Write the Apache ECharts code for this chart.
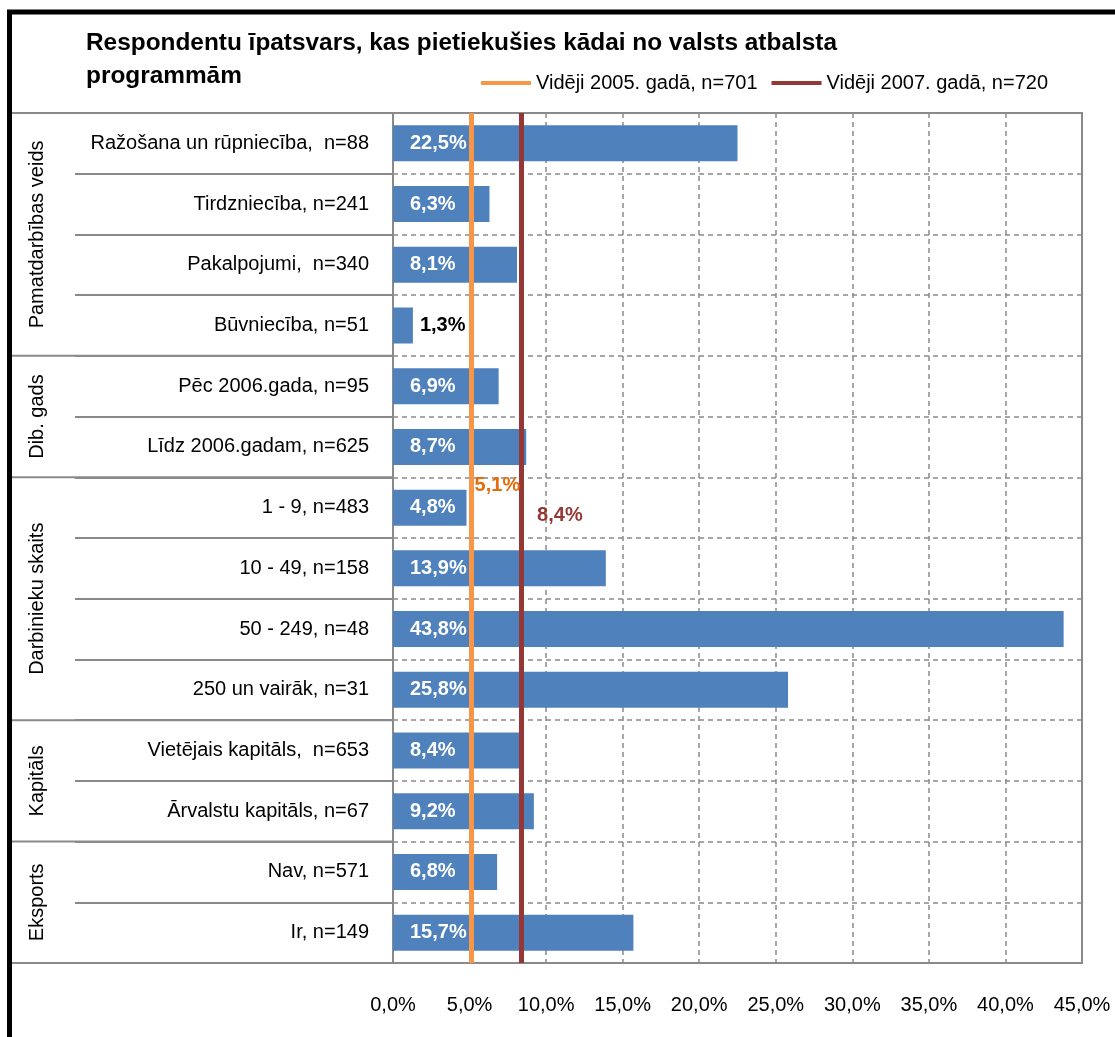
<!DOCTYPE html>
<html>
<head>
<meta charset="utf-8">
<script src="https://cdn.jsdelivr.net/npm/echarts@6/dist/echarts.min.js"></script>
<style>
  html, body { margin: 0; padding: 0; background: #fff; }
  #chart { width: 1115px; height: 1037px; }
</style>
</head>
<body>
<div id="chart"></div>
<script>
var categories = ['Ražošana un rūpniecība,  n=88', 'Tirdzniecība, n=241', 'Pakalpojumi,  n=340', 'Būvniecība, n=51',
    'Pēc 2006.gada, n=95', 'Līdz 2006.gadam, n=625',
    '1 - 9, n=483', '10 - 49, n=158', '50 - 249, n=48', '250 un vairāk, n=31',
    'Vietējais kapitāls,  n=653', 'Ārvalstu kapitāls, n=67',
    'Nav, n=571', 'Ir, n=149'];
var values = [22.5, 6.3, 8.1, 1.3, 6.9, 8.7, 4.8, 13.9, 43.8, 25.8, 8.4, 9.2, 6.8, 15.7];
var groupNames = ['Pamatdarbības veids', 'Dib. gads', 'Darbinieku skaits', 'Kapitāls', 'Eksports'];
var groupSizes = [4, 2, 4, 2, 2];
var avgNames = ['Vidēji 2005. gadā, n=701', 'Vidēji 2007. gadā, n=720'];
var avgValues = [5.1, 8.4];

var FONT = '"Liberation Sans", Arial, sans-serif';
var FS = 20;
var GRID_COLOR = '#8a8a8a';

var fmt = function (v) {
    return v.toFixed(1).replace('.', ',') + '%';
};

var chart = echarts.init(document.getElementById('chart'));

var barData = values.map(function (v) {
    // mazās vērtības etiķete ārpus stabiņa
    if (v < 3) {
        return { value: v, label: { position: 'right', distance: 7, color: '#000' } };
    }
    return v;
});

var option = {
    backgroundColor: '#fff',
    animation: false,
    textStyle: { fontFamily: FONT },
    title: {
        text: 'Respondentu īpatsvars, kas pietiekušies kādai no valsts atbalsta\nprogrammām',
        left: 81,
        top: 22,
        textStyle: { fontSize: 24.4, fontWeight: 'bold', color: '#000', lineHeight: 33, fontFamily: FONT }
    },
    legend: {
        right: 62,
        top: 68,
        icon: 'rect',
        itemWidth: 50,
        itemHeight: 4,
        itemGap: 14,
        textStyle: { fontSize: FS, color: '#000', fontFamily: FONT },
        data: avgNames
    },
    grid: {
        left: 393,
        right: 33,
        top: 113,
        bottom: 74,
        containLabel: false,
        outerBoundsMode: 'none',
        show: true,
        borderColor: GRID_COLOR,
        borderWidth: 2
    },
    xAxis: {
        type: 'value',
        min: 0,
        max: 45,
        interval: 5,
        axisLine: { show: false },
        axisTick: { show: false },
        axisLabel: {
            margin: 32,
            fontSize: FS,
            color: '#000',
            formatter: function (v) { return fmt(v); }
        },
        splitLine: { lineStyle: { color: GRID_COLOR, type: [5, 4], width: 1.5 } }
    },
    yAxis: {
        type: 'category',
        inverse: true,
        data: categories,
        axisLine: { show: false },
        axisTick: { show: true, length: 318, lineStyle: { color: GRID_COLOR, width: 2 } },
        axisLabel: { margin: 24, fontSize: FS, color: '#000' },
        splitLine: { show: true, lineStyle: { color: GRID_COLOR, type: [5, 4], width: 1.5 } }
    },
    series: [
        {
            type: 'bar',
            data: barData,
            barWidth: 36,
            itemStyle: { color: '#4F81BD' },
            label: {
                show: true,
                position: 'insideLeft',
                distance: 17,
                color: '#fff',
                fontSize: FS,
                fontWeight: 'bold',
                formatter: function (p) { return fmt(p.value); }
            },
            z: 2
        },
        {
            name: avgNames[0],
            type: 'line',
            data: [],
            symbol: 'none',
            itemStyle: { color: '#F79646' },
            lineStyle: { color: '#F79646', width: 5 },
            markLine: {
                silent: true,
                symbol: 'none',
                label: { show: false },
                lineStyle: { color: '#F79646', width: 5, type: 'solid' },
                data: [{ xAxis: avgValues[0] }]
            },
            markPoint: {
                symbol: 'circle',
                symbolSize: 1,
                itemStyle: { color: 'rgba(0,0,0,0)' },
                label: {
                    show: true,
                    position: 'right',
                    distance: 3,
                    offset: [0, -22],
                    color: '#E46C0A',
                    fontSize: FS,
                    fontWeight: 'bold',
                    formatter: function () { return fmt(avgValues[0]); }
                },
                data: [{ coord: [avgValues[0], categories[6]] }]
            },
            z: 5
        },
        {
            name: avgNames[1],
            type: 'line',
            data: [],
            symbol: 'none',
            itemStyle: { color: '#953735' },
            lineStyle: { color: '#953735', width: 5 },
            markLine: {
                silent: true,
                symbol: 'none',
                label: { show: false },
                lineStyle: { color: '#953735', width: 5, type: 'solid' },
                data: [{ xAxis: avgValues[1] }]
            },
            markPoint: {
                symbol: 'circle',
                symbolSize: 1,
                itemStyle: { color: 'rgba(0,0,0,0)' },
                label: {
                    show: true,
                    position: 'right',
                    distance: 15,
                    offset: [0, 8],
                    color: '#953735',
                    fontSize: FS,
                    fontWeight: 'bold',
                    formatter: function () { return fmt(avgValues[1]); }
                },
                data: [{ coord: [avgValues[1], categories[6]] }]
            },
            z: 5
        }
    ]
};

chart.setOption(option);

// grupu nosaukumi un atdalītājlīnijas pēc kategoriju ass pozīcijām
var y0 = chart.convertToPixel({ yAxisIndex: 0 }, categories[0]);
var y1 = chart.convertToPixel({ yAxisIndex: 0 }, categories[1]);
var band = y1 - y0;
var gridLeft = chart.convertToPixel({ xAxisIndex: 0 }, 0);
var graphics = [
    { type: 'line', shape: { x1: 9.5, y1: 10, x2: 9.5, y2: 1037 }, style: { stroke: '#000', lineWidth: 5 }, z: 10 },
    { type: 'line', shape: { x1: 7, y1: 12, x2: 1115, y2: 12 }, style: { stroke: '#000', lineWidth: 5 }, z: 10 }
];
var start = 0;
groupSizes.forEach(function (n, i) {
    var top = chart.convertToPixel({ yAxisIndex: 0 }, categories[start]) - band / 2;
    var bottom = chart.convertToPixel({ yAxisIndex: 0 }, categories[start + n - 1]) + band / 2;
    graphics.push({
        type: 'text',
        x: 37,
        y: (top + bottom) / 2,
        rotation: Math.PI / 2,
        style: {
            text: groupNames[i],
            fontSize: FS,
            fontFamily: FONT,
            fill: '#000',
            align: 'center',
            verticalAlign: 'middle'
        }
    });
    if (i === 0) {
        graphics.push({ type: 'line', shape: { x1: 12, y1: top, x2: gridLeft, y2: top }, style: { stroke: GRID_COLOR, lineWidth: 2 } });
    }
    graphics.push({ type: 'line', shape: { x1: 12, y1: bottom, x2: gridLeft, y2: bottom }, style: { stroke: GRID_COLOR, lineWidth: 2 } });
    start += n;
});
chart.setOption({ graphic: graphics });
</script>
</body>
</html>
